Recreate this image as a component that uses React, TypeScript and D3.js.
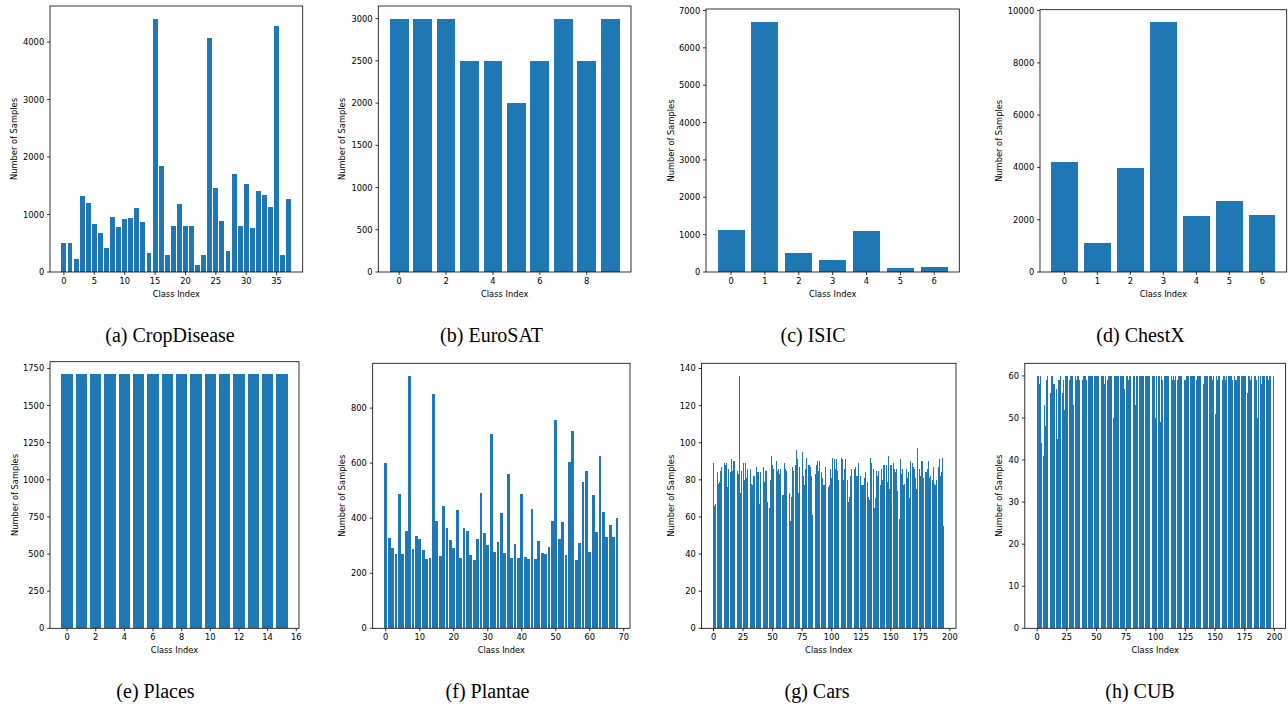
import React from "react";
import * as d3 from "d3";

// ---- per-dataset class counts ----
const cropDiseaseCounts = [
  504, 497, 220, 1316, 1202, 842, 683, 410, 954, 788, 930, 944, 1106, 861, 338, 4406, 1838, 288, 798, 1182,
  800, 800, 122, 297, 4072, 1468, 887, 365, 1702, 800, 1527, 762, 1417, 1341, 1123, 4286, 298, 1273,
];
const euroSatCounts = [3000, 3000, 3000, 2500, 2500, 2000, 2500, 3000, 2500, 3000];
const isicCounts = [1113, 6705, 514, 327, 1099, 115, 142];
const chestXCounts = [4204, 1108, 3975, 9554, 2140, 2713, 2178];
const placesCounts = [1710, 1710, 1710, 1710, 1710, 1710, 1710, 1710, 1710, 1710, 1710, 1710, 1710, 1710, 1710, 1710];
const plantaeCounts = [
  600, 327, 291, 270, 488, 270, 353, 917, 287, 335,
  324, 284, 251, 255, 852, 389, 262, 445, 364, 320,
  291, 429, 255, 364, 353, 265, 247, 324, 491, 345,
  302, 707, 276, 313, 418, 273, 560, 255, 306, 256,
  488, 259, 252, 434, 252, 318, 274, 270, 296, 390,
  758, 325, 387, 267, 605, 718, 248, 310, 532, 572,
  278, 485, 350, 627, 423, 332, 376, 332, 401,
];
const carsCounts = [
  89, 66, 67, 84, 78, 79, 85, 87, 83, 89,
  88, 89, 76, 86, 84, 91, 85, 90, 90, 75,
  85, 83, 136, 73, 85, 89, 80, 89, 81, 86,
  78, 86, 78, 77, 82, 82, 87, 84, 84, 67,
  84, 48, 87, 79, 85, 85, 68, 65, 80, 93,
  88, 86, 89, 90, 85, 86, 83, 86, 72, 72,
  89, 86, 85, 78, 73, 58, 71, 87, 85, 88,
  96, 91, 73, 87, 89, 95, 82, 77, 86, 92,
  88, 88, 87, 82, 61, 77, 83, 88, 90, 85,
  90, 84, 81, 77, 77, 87, 87, 76, 77, 86,
  81, 92, 91, 86, 91, 85, 80, 64, 92, 91,
  80, 86, 91, 80, 68, 71, 82, 86, 86, 86,
  87, 82, 82, 89, 82, 77, 77, 77, 81, 84,
  79, 71, 69, 92, 89, 86, 65, 70, 85, 82,
  85, 77, 86, 80, 88, 88, 88, 79, 93, 75,
  88, 88, 89, 86, 84, 86, 74, 59, 91, 83,
  86, 77, 78, 86, 81, 84, 70, 90, 89, 87,
  86, 81, 75, 97, 86, 82, 90, 90, 81, 84,
  84, 86, 90, 81, 82, 80, 87, 78, 77, 80,
  87, 91, 82, 84, 92, 55,
];
const cubCounts = [
  60, 60, 58, 60, 44, 41, 53, 48, 59, 60,
  60, 56, 60, 60, 58, 58, 57, 45, 59, 59,
  60, 56, 59, 52, 60, 60, 60, 59, 60, 60,
  60, 53, 60, 59, 60, 60, 59, 60, 59, 60,
  60, 60, 59, 60, 60, 60, 60, 60, 60, 60,
  60, 60, 60, 60, 60, 60, 60, 58, 60, 59,
  60, 60, 60, 60, 50, 60, 60, 60, 60, 60,
  60, 60, 60, 60, 57, 60, 60, 59, 60, 60,
  60, 60, 60, 53, 60, 60, 60, 60, 60, 60,
  60, 60, 60, 60, 60, 60, 59, 60, 60, 60,
  50, 60, 60, 60, 49, 60, 59, 60, 60, 60,
  60, 60, 50, 60, 59, 60, 59, 60, 59, 60,
  60, 60, 60, 59, 59, 59, 60, 60, 60, 60,
  60, 60, 60, 60, 59, 60, 60, 60, 60, 60,
  58, 60, 60, 60, 60, 60, 60, 60, 59, 60,
  51, 60, 59, 60, 60, 60, 59, 60, 60, 59,
  60, 60, 60, 60, 60, 59, 60, 59, 59, 60,
  60, 60, 60, 60, 60, 60, 60, 56, 60, 60,
  59, 60, 60, 60, 60, 59, 50, 60, 60, 58,
  60, 60, 60, 60, 60, 59, 60, 60, 60, 60,
];

// ---- tick values ----
const cropDiseaseXTicks = [0, 5, 10, 15, 20, 25, 30, 35];
const cropDiseaseYTicks = [0, 1000, 2000, 3000, 4000];
const euroSatXTicks = [0, 2, 4, 6, 8];
const euroSatYTicks = [0, 500, 1000, 1500, 2000, 2500, 3000];
const isicXTicks = [0, 1, 2, 3, 4, 5, 6];
const isicYTicks = [0, 1000, 2000, 3000, 4000, 5000, 6000, 7000];
const chestXXTicks = [0, 1, 2, 3, 4, 5, 6];
const chestXYTicks = [0, 2000, 4000, 6000, 8000, 10000];
const placesXTicks = [0, 2, 4, 6, 8, 10, 12, 14, 16];
const placesYTicks = [0, 250, 500, 750, 1000, 1250, 1500, 1750];
const plantaeXTicks = [0, 10, 20, 30, 40, 50, 60, 70];
const plantaeYTicks = [0, 200, 400, 600, 800];
const carsXTicks = [0, 25, 50, 75, 100, 125, 150, 175, 200];
const carsYTicks = [0, 20, 40, 60, 80, 100, 120, 140];
const cubXTicks = [0, 25, 50, 75, 100, 125, 150, 175, 200];
const cubYTicks = [0, 10, 20, 30, 40, 50, 60];

const captions = [
  "(a) CropDisease", "(b) EuroSAT", "(c) ISIC", "(d) ChestX",
  "(e) Places", "(f) Plantae", "(g) Cars", "(h) CUB",
];

const BAR_COLOR = "#1f77b4";
const SANS = "'DejaVu Sans', sans-serif";
const SERIF = "'Liberation Serif', 'Times New Roman', serif";
const TICK_FONT = 8.3;
const TICK_LEN = 2.9;
const TICK_PAD = 2.9;

type Panel = {
  caption: string;
  counts: number[];
  xTicks: number[];
  yTicks: number[];
  box: { l: number; t: number; r: number; b: number };
  yLabelX: number;
  captionX: number;
  captionY: number;
};

const panels: Panel[] = [
  { caption: captions[0], counts: cropDiseaseCounts, xTicks: cropDiseaseXTicks, yTicks: cropDiseaseYTicks,
    box: { l: 50, t: 6, r: 302.7, b: 272 }, yLabelX: 14, captionX: 170, captionY: 342 },
  { caption: captions[1], counts: euroSatCounts, xTicks: euroSatXTicks, yTicks: euroSatYTicks,
    box: { l: 378.3, t: 6, r: 631, b: 272 }, yLabelX: 342.3, captionX: 491.5, captionY: 342 },
  { caption: captions[2], counts: isicCounts, xTicks: isicXTicks, yTicks: isicYTicks,
    box: { l: 706, t: 9, r: 959.3, b: 272 }, yLabelX: 671, captionX: 813, captionY: 342 },
  { caption: captions[3], counts: chestXCounts, xTicks: chestXXTicks, yTicks: chestXYTicks,
    box: { l: 1040, t: 9.7, r: 1286.7, b: 272 }, yLabelX: 999, captionX: 1140.5, captionY: 342 },
  { caption: captions[4], counts: placesCounts, xTicks: placesXTicks, yTicks: placesYTicks,
    box: { l: 50, t: 361.7, r: 299, b: 628.3 }, yLabelX: 15, captionX: 155.5, captionY: 698 },
  { caption: captions[5], counts: plantaeCounts, xTicks: plantaeXTicks, yTicks: plantaeYTicks,
    box: { l: 372.7, t: 363.3, r: 630, b: 628.3 }, yLabelX: 342, captionX: 487.5, captionY: 698 },
  { caption: captions[6], counts: carsCounts, xTicks: carsXTicks, yTicks: carsYTicks,
    box: { l: 701.5, t: 363.3, r: 956, b: 628.3 }, yLabelX: 671, captionX: 817, captionY: 698 },
  { caption: captions[7], counts: cubCounts, xTicks: cubXTicks, yTicks: cubYTicks,
    box: { l: 1024.8, t: 363.3, r: 1285.5, b: 628.3 }, yLabelX: 999, captionX: 1140, captionY: 698 },
];

function BarPanel({ p }: { p: Panel }) {
  const { l, t, r, b } = p.box;
  const n = p.counts.length;
  const span = n - 1 + 0.8;
  const x = d3
    .scaleLinear()
    .domain([-0.4 - 0.05 * span, n - 1 + 0.4 + 0.05 * span])
    .range([l, r]);
  const y = d3
    .scaleLinear()
    .domain([0, (d3.max(p.counts) as number) * 1.05])
    .range([b, t]);

  return (
    <g>
      <g shapeRendering="crispEdges">
        {p.counts.map((v, i) => (
          <rect
            key={i}
            x={x(i - 0.4)}
            y={y(v)}
            width={x(i + 0.4) - x(i - 0.4)}
            height={y(0) - y(v)}
            fill={BAR_COLOR}
          />
        ))}
      </g>
      <rect x={l} y={t} width={r - l} height={b - t} fill="none" stroke="#000" strokeWidth={0.8} />
      {p.xTicks.map((tv) => (
        <g key={"x" + tv}>
          <line x1={x(tv)} x2={x(tv)} y1={b} y2={b + TICK_LEN} stroke="#000" strokeWidth={0.8} />
          <text
            x={x(tv)}
            y={b + TICK_LEN + TICK_PAD + 6.1}
            textAnchor="middle"
            fontFamily={SANS}
            fontSize={TICK_FONT}
            fill="#000"
          >
            {tv}
          </text>
        </g>
      ))}
      {p.yTicks.map((tv) => (
        <g key={"y" + tv}>
          <line x1={l - TICK_LEN} x2={l} y1={y(tv)} y2={y(tv)} stroke="#000" strokeWidth={0.8} />
          <text
            x={l - TICK_LEN - TICK_PAD}
            y={y(tv) + 3}
            textAnchor="end"
            fontFamily={SANS}
            fontSize={TICK_FONT}
            fill="#000"
          >
            {tv}
          </text>
        </g>
      ))}
      <text
        x={(l + r) / 2}
        y={b + 24.6}
        textAnchor="middle"
        fontFamily={SANS}
        fontSize={TICK_FONT}
        fill="#000"
      >
        Class Index
      </text>
      <text
        transform={`translate(${p.yLabelX + 3},${(t + b) / 2}) rotate(-90)`}
        textAnchor="middle"
        fontFamily={SANS}
        fontSize={TICK_FONT}
        fill="#000"
      >
        Number of Samples
      </text>
      <text x={p.captionX} y={p.captionY} textAnchor="middle" fontFamily={SERIF} fontSize={20} fill="#000">
        {p.caption}
      </text>
    </g>
  );
}

export default function App() {
  return (
    <svg
      width={1288}
      height={707}
      viewBox="0 0 1288 707"
      style={{ position: "absolute", left: 0, top: 0, background: "#fff" }}
    >
      <rect x={0} y={0} width={1288} height={707} fill="#fff" />
      {panels.map((p) => (
        <BarPanel key={p.caption} p={p} />
      ))}
    </svg>
  );
}
